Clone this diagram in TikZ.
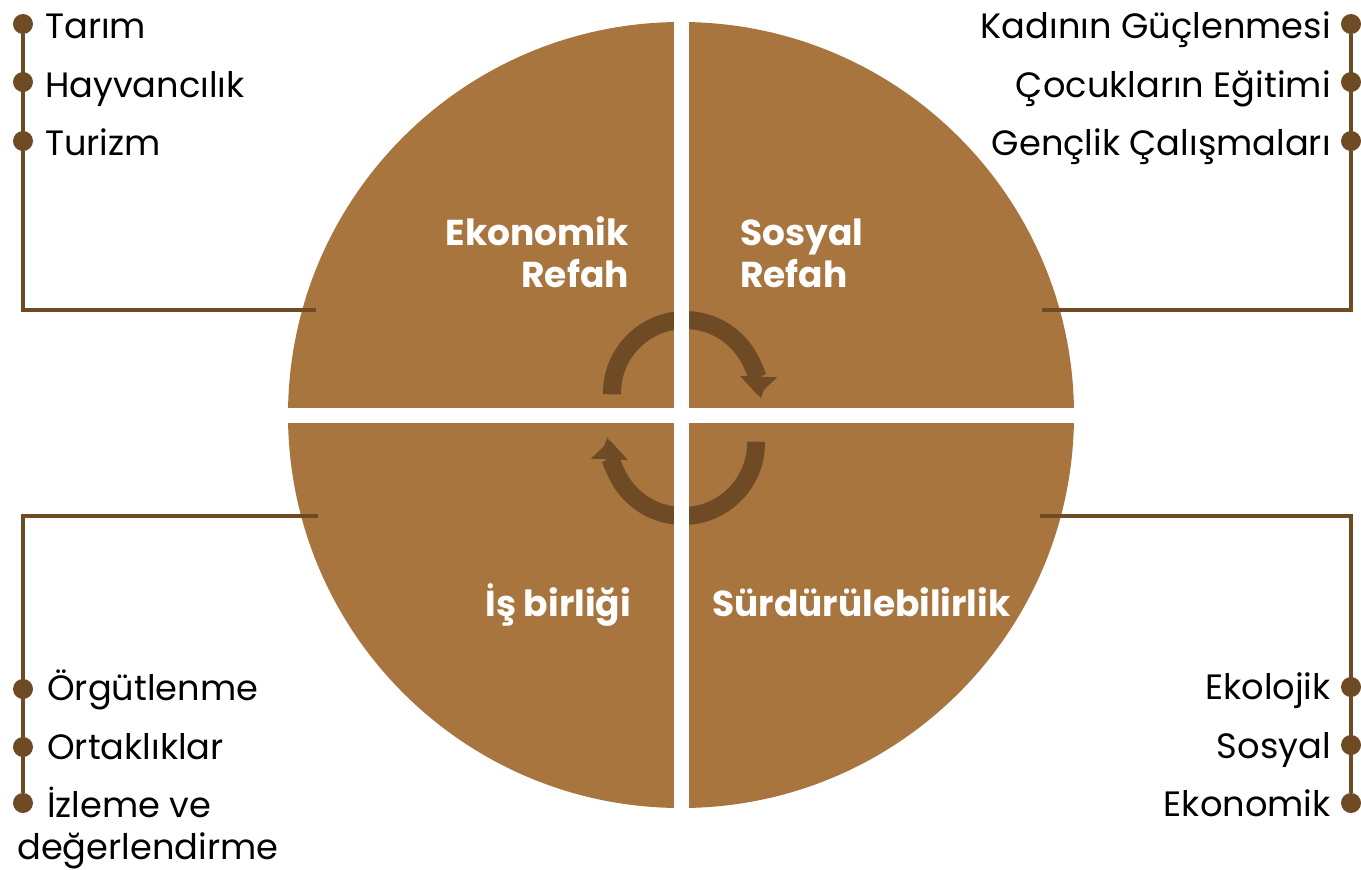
\documentclass[tikz,border=0pt]{standalone}
\usepackage{fontspec}
\setmainfont{Poppins}
\usetikzlibrary{arrows.meta}
\definecolor{quadfill}{HTML}{A9753F}
\definecolor{linebrown}{HTML}{6E4B25}

\begin{document}
\begin{tikzpicture}[x=0.75pt,y=-0.75pt,
  item/.style={font=\fontsize{26.4pt}{31.5pt}\selectfont, inner sep=0pt, text=black},
  head/.style={font=\fontsize{27pt}{31.5pt}\selectfont\bfseries, inner sep=0pt, text=white},
  dot/.style={circle, fill=linebrown, inner sep=0pt, minimum size=15pt},
  bracket/.style={draw=linebrown, line width=3pt},
  cyc/.style={draw=linebrown, line width=13.5pt, -{Triangle[width=27pt,length=14.25pt]}}]
\useasboundingbox (0,0) rectangle (1361,869);

% circle, cycle arrows, cross gap
\fill[quadfill] (681,415) circle[radius=393];
\draw[cyc] ([shift={(179:73)}]685,393) arc[start angle=179, end angle=362, radius=73];
\draw[cyc] ([shift={(-1:73)}]683,443) arc[start angle=-1, end angle=182, radius=73];
\fill[white] (673.5,15) rectangle (688.5,815);
\fill[white] (280,407.5) rectangle (1082,422.5);

% quadrant titles
\node[head, anchor=base east, align=right] (ekon) at (629,287) {Ekonomik\\Refah};
\node[head, anchor=base west, align=left] (sosy) at (740,287) {Sosyal\\Refah};
\node[head, anchor=base east] (isb) at (631,616) {İş birliği};
\node[head, anchor=base west] (surd) at (712,616) {Sürdürülebilirlik};

% top left
\node[dot] (tl1) at (23,24) {};
\node[dot] (tl2) at (23,82) {};
\node[dot] (tl3) at (23,141) {};
\coordinate (tlend) at (316,310);
\draw[bracket] (tl1) |- (tlend);
\node[item, anchor=base west] (tarim) at (45,38) {Tarım};
\node[item, anchor=base west] (hayv) at (45,97) {Hayvancılık};
\node[item, anchor=base west] (turz) at (45,155) {Turizm};

% top right
\node[dot] (tr1) at (1351,24) {};
\node[dot] (tr2) at (1351,82) {};
\node[dot] (tr3) at (1351,141) {};
\coordinate (trend) at (1042,310);
\draw[bracket] (tr1) |- (trend);
\node[item, anchor=base east] (kadin) at (1331,38) {Kadının Güçlenmesi};
\node[item, anchor=base east] (cocuk) at (1331,97) {Çocukların Eğitimi};
\node[item, anchor=base east] (genc) at (1331,155) {Gençlik Çalışmaları};

% bottom left
\node[dot] (bl1) at (23,689) {};
\node[dot] (bl2) at (23,747) {};
\node[dot] (bl3) at (23,803) {};
\coordinate (blend) at (318,516);
\draw[bracket] (bl3) |- (blend);
\node[item, anchor=base west] (orgut) at (47,700) {Örgütlenme};
\node[item, anchor=base west] (ortak) at (47,759) {Ortaklıklar};
\node[item, anchor=base west, align=left] (izle) at (17,859) {\hspace*{22.5pt}İzleme ve\\değerlendirme};

% bottom right
\node[dot] (br1) at (1351,687) {};
\node[dot] (br2) at (1351,745) {};
\node[dot] (br3) at (1351,803) {};
\coordinate (brend) at (1040,516);
\draw[bracket] (br3) |- (brend);
\node[item, anchor=base east] (ekol) at (1331,699) {Ekolojik};
\node[item, anchor=base east] (sosyal) at (1331,758) {Sosyal};
\node[item, anchor=base east] (ekonm) at (1331,816) {Ekonomik};
\end{tikzpicture}
\end{document}
